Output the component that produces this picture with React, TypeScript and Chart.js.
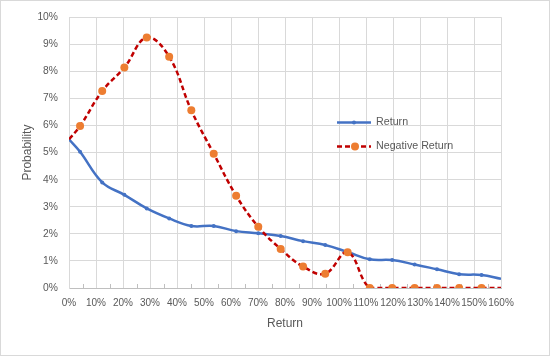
import { useEffect, useRef } from 'react';
import { Chart, registerables } from 'chart.js';

Chart.register(...registerables);

// Return (x, %) positions of the points
const returnPoints = [0, 4.1, 12.3, 20.5, 28.8, 37.1, 45.3, 53.6, 61.9, 70.1, 78.4, 86.7, 94.9, 103.2, 111.4, 119.7, 128.0, 136.3, 144.5, 152.8, 160];
// Probability (%) of "Return"
const returnValues = [5.49, 5.03, 3.90, 3.44, 2.94, 2.57, 2.29, 2.29, 2.10, 2.02, 1.92, 1.73, 1.59, 1.33, 1.06, 1.03, 0.87, 0.69, 0.51, 0.48, 0.34];
// Probability (%) of "Negative Return"
const negativeValues = [5.49, 5.98, 7.27, 8.14, 9.25, 8.54, 6.56, 4.96, 3.41, 2.26, 1.44, 0.79, 0.53, 1.32, 0, 0, 0, 0, 0, 0, 0];

const seriesNames = ['Return', 'Negative Return'];
const xTitle = 'Return';
const yTitle = 'Probability';

const FONT = "'Liberation Sans', Arial, sans-serif";
const TEXT = '#595959';
const BLUE = '#4472C4';
const RED = '#C00000';
const ORANGE = '#ED7D31';

export default function App() {
  const ref = useRef<HTMLCanvasElement | null>(null);

  useEffect(() => {
    if (!ref.current) return;
    const endsHidden = (r: number) => returnPoints.map((_, i) => (i === 0 || i === returnPoints.length - 1 ? 0 : r));

    const framePlugin = {
      id: 'frame',
      beforeDraw(chart: any) {
        const c = chart.ctx;
        c.save();
        c.fillStyle = '#ffffff';
        c.fillRect(0, 0, chart.width, chart.height);
        c.strokeStyle = '#D9D9D9';
        c.lineWidth = 1;
        c.strokeRect(0.5, 0.5, 549, 355);
        c.restore();
      },
      beforeDatasetsDraw(chart: any) {
        const c = chart.ctx;
        const xs = chart.scales.x;
        const bottom = chart.chartArea.bottom;
        c.save();
        c.strokeStyle = '#BFBFBF';
        c.lineWidth = 1;
        for (let v = 5; v < 160; v += 10) {
          const px = Math.round(xs.getPixelForValue(v)) + 0.5;
          c.beginPath();
          c.moveTo(px, bottom);
          c.lineTo(px, bottom - 4);
          c.stroke();
        }
        c.restore();
      },
      afterDraw(chart: any) {
        const c = chart.ctx;
        c.save();
        const x0 = 337, x1 = 371, tx = 376;
        // Return
        let y = 122.5;
        c.strokeStyle = BLUE;
        c.lineWidth = 2.5;
        c.setLineDash([]);
        c.beginPath();
        c.moveTo(x0, y);
        c.lineTo(x1, y);
        c.stroke();
        c.fillStyle = BLUE;
        c.beginPath();
        c.arc((x0 + x1) / 2, y, 2, 0, Math.PI * 2);
        c.fill();
        c.fillStyle = TEXT;
        c.font = `10.7px ${FONT}`;
        c.textBaseline = 'middle';
        c.textAlign = 'left';
        c.fillText(seriesNames[0], tx, y);
        // Negative Return
        y = 146.5;
        c.strokeStyle = RED;
        c.setLineDash([5, 3]);
        c.beginPath();
        c.moveTo(x0, y);
        c.lineTo(x1, y);
        c.stroke();
        c.setLineDash([]);
        c.fillStyle = ORANGE;
        c.beginPath();
        c.arc((x0 + x1) / 2 + 1, y, 4, 0, Math.PI * 2);
        c.fill();
        c.fillStyle = TEXT;
        c.fillText(seriesNames[1], tx, y);
        c.restore();
      },
    };

    const chart = new Chart(ref.current, {
      type: 'line',
      data: {
        datasets: [
          {
            label: seriesNames[1],
            data: returnPoints.map((x, i) => ({ x, y: negativeValues[i] })),
            borderColor: RED,
            borderWidth: 2.5,
            borderDash: [5, 3],
            pointRadius: endsHidden(4),
            pointBackgroundColor: ORANGE,
            pointBorderWidth: 0,
            tension: 0.4,
            fill: false,
            order: 0,
          },
          {
            label: seriesNames[0],
            data: returnPoints.map((x, i) => ({ x, y: returnValues[i] })),
            borderColor: BLUE,
            borderWidth: 2.5,
            pointRadius: endsHidden(2),
            pointBackgroundColor: BLUE,
            pointBorderWidth: 0,
            tension: 0.4,
            fill: false,
            order: 1,
          },
        ],
      },
      options: {
        responsive: false,
        animation: false,
        layout: { padding: { top: 17, right: 50, bottom: 0, left: 0 } },
        plugins: { legend: { display: false }, tooltip: { enabled: false } },
        scales: {
          x: {
            type: 'linear',
            min: 0,
            max: 160,
            afterFit: (s: any) => { s.height = 69; },
            ticks: {
              stepSize: 10,
              autoSkip: false,
              maxRotation: 0,
              padding: 9,
              color: TEXT,
              font: { family: FONT, size: 10 },
              callback: (v: any) => `${v}%`,
            },
            grid: { color: '#D9D9D9', drawTicks: false },
            border: { color: '#BFBFBF' },
            title: {
              display: true,
              text: xTitle,
              color: TEXT,
              font: { family: FONT, size: 12 },
              padding: { top: 0, bottom: 26 },
            },
          },
          y: {
            type: 'linear',
            min: 0,
            max: 10,
            afterFit: (s: any) => { s.width = 69; },
            ticks: {
              stepSize: 1,
              padding: 11,
              color: TEXT,
              font: { family: FONT, size: 10.3 },
              callback: (v: any) => `${v}%`,
            },
            grid: { color: '#D9D9D9', drawTicks: false },
            border: { color: '#D9D9D9' },
            title: {
              display: true,
              text: yTitle,
              color: TEXT,
              font: { family: FONT, size: 12 },
              padding: { top: 20, bottom: 0 },
            },
          },
        },
      },
      plugins: [framePlugin],
    });
    return () => chart.destroy();
  }, []);

  return (
    <div style={{ position: 'absolute', left: 0, top: 0, width: 551, height: 357 }}>
      <canvas ref={ref} width={551} height={357} style={{ width: 551, height: 357, display: 'block' }} />
    </div>
  );
}
